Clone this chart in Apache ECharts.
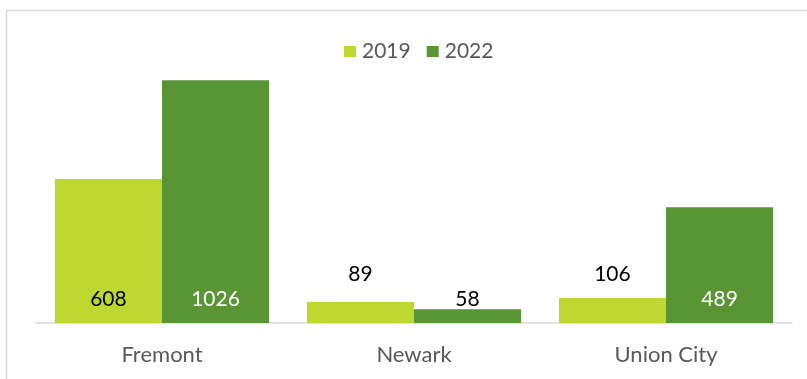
<!DOCTYPE html>
<html>
<head>
<meta charset="utf-8">
<script src="https://cdn.jsdelivr.net/npm/echarts@6/dist/echarts.min.js"></script>
<style>
  html, body { margin: 0; padding: 0; background: #ffffff; }
  #chart { width: 807px; height: 379px; }
</style>
</head>
<body>
<div id="chart"></div>
<script>
// Cities and counts per year
const cities = ['Fremont', 'Newark', 'Union City'];
const years = ['2019', '2022'];
const values2019 = [608, 89, 106];
const values2022 = [1026, 58, 489];

const FONT = 'Lato, "Open Sans", sans-serif';
const LIGHT = '#BFD831';
const DARK = '#5A9535';

// Short bars get their number placed above the bar; tall bars hold it inside.
function labelled(values, insideColor, raise) {
  return values.map(function (v) {
    const small = v < 150;
    return {
      value: v,
      label: {
        distance: small ? raise : 13,
        color: small ? '#000000' : insideColor
      }
    };
  });
}

const chart = echarts.init(document.getElementById('chart'));
chart.setOption({
  animation: false,
  backgroundColor: '#ffffff',
  textStyle: { fontFamily: FONT },
  graphic: [
    { type: 'line', shape: { x1: 6, y1: 10.5, x2: 807, y2: 10.5 }, style: { stroke: '#D9D9D9', lineWidth: 1.5 } },
    { type: 'line', shape: { x1: 6.5, y1: 10, x2: 6.5, y2: 379 }, style: { stroke: '#D9D9D9', lineWidth: 1.5 } }
  ],
  legend: {
    data: years,
    top: 36,
    left: 339,
    icon: 'rect',
    itemWidth: 12,
    itemHeight: 11,
    itemGap: 16,
    textStyle: { fontFamily: FONT, fontSize: 21, color: '#595959', padding: [0, 0, 0, 1] }
  },
  grid: { left: 36, right: 15, top: 39, bottom: 56 },
  xAxis: {
    type: 'category',
    data: cities,
    axisLine: { lineStyle: { color: '#D9D9D9', width: 1.5 } },
    axisTick: { show: false },
    axisLabel: { fontFamily: FONT, fontSize: 22, color: '#595959', margin: 21 }
  },
  yAxis: {
    type: 'value',
    min: 0,
    max: 1200,
    show: false,
    splitLine: { show: false }
  },
  series: [
    {
      name: years[0],
      type: 'bar',
      data: labelled(values2019, '#000000', 38),
      itemStyle: { color: LIGHT },
      barGap: '0%',
      barCategoryGap: '15%',
      label: { show: true, position: 'insideBottom', fontFamily: FONT, fontSize: 21, color: '#000000' }
    },
    {
      name: years[1],
      type: 'bar',
      data: labelled(values2022, '#ffffff', 13),
      itemStyle: { color: DARK },
      barGap: '0%',
      barCategoryGap: '15%',
      label: { show: true, position: 'insideBottom', fontFamily: FONT, fontSize: 21, color: '#ffffff' }
    }
  ]
});
</script>
</body>
</html>
